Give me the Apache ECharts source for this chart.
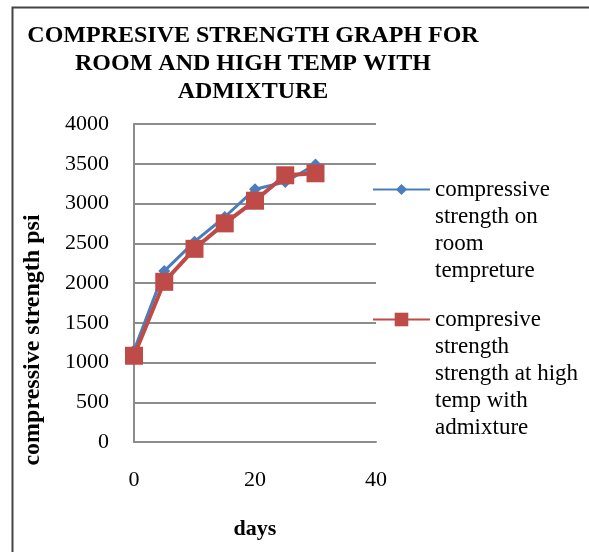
<!DOCTYPE html>
<html>
<head>
<meta charset="utf-8">
<script src="https://cdn.jsdelivr.net/npm/echarts@6/dist/echarts.min.js"></script>
<style>html,body{margin:0;padding:0;background:#fff;}#c{width:589px;height:552px;}</style>
</head>
<body>
<div id="c"></div>
<script>
const days = [0, 5, 10, 15, 20, 25, 30];
const roomTemp = [1150, 2150, 2520, 2830, 3180, 3270, 3490];
const highTempAdmix = [1085, 2015, 2430, 2750, 3035, 3355, 3380];
const yTicks = { min: 0, max: 4000, interval: 500 };
const xTicks = { min: 0, max: 40, interval: 20 };
const nameRoom = 'compressive\nstrength on\nroom\ntempreture';
const nameHigh = 'compresive\nstrength\nstrength at high\ntemp with\nadmixture';

const serif = '"Liberation Serif", "Times New Roman", serif';
// put the legend icon level with the first text line
const firstLineAlign = (n) => '\n'.repeat(n.split('\n').length - 1) + n;

const chart = echarts.init(document.getElementById('c'));
chart.setOption({
  backgroundColor: '#fff',
  animation: false,
  title: {
    text: 'COMPRESIVE STRENGTH GRAPH FOR\nROOM AND HIGH TEMP WITH\nADMIXTURE',
    left: 248, top: 17, textAlign: 'center',
    textStyle: { fontFamily: serif, fontWeight: 'bold', fontSize: 24, lineHeight: 28, color: '#000' }
  },
  graphic: [{
    type: 'rect', left: 10, top: 5, shape: { width: 700, height: 700 },
    style: { fill: 'none', stroke: '#444', lineWidth: 2 }, silent: true
  }],
  grid: { left: 134, right: 213, top: 124, bottom: 110 },
  legend: [{
    data: [nameRoom], orient: 'vertical', left: 372, top: 95, padding: 0,
    itemWidth: 57, itemHeight: 14, itemGap: 0, formatter: firstLineAlign,
    textStyle: { fontFamily: serif, fontSize: 23, lineHeight: 27, color: '#000' }
  }, {
    data: [nameHigh], orient: 'vertical', left: 372, top: 198, padding: 0,
    itemWidth: 57, itemHeight: 17, itemGap: 0, formatter: firstLineAlign,
    textStyle: { fontFamily: serif, fontSize: 23, lineHeight: 27, color: '#000' }
  }],
  xAxis: {
    type: 'value', min: xTicks.min, max: xTicks.max, interval: xTicks.interval,
    name: 'days', nameLocation: 'middle', nameGap: 76,
    nameTextStyle: { fontFamily: serif, fontWeight: 'bold', fontSize: 22, color: '#000' },
    axisLine: { show: true, lineStyle: { color: '#8c8c8c', width: 2 } },
    axisTick: { show: false },
    splitLine: { show: false },
    axisLabel: { fontFamily: serif, fontSize: 22, color: '#000', margin: 27 }
  },
  yAxis: {
    type: 'value', min: yTicks.min, max: yTicks.max, interval: yTicks.interval,
    name: 'compressive strength psi', nameLocation: 'middle', nameGap: 89,
    nameTextStyle: { fontFamily: serif, fontWeight: 'bold', fontSize: 24, color: '#000', padding: [0, 114, 0, 0] },
    axisLine: { show: true, lineStyle: { color: '#8c8c8c', width: 2 } },
    axisTick: { show: false },
    splitLine: { show: true, lineStyle: { color: '#8c8c8c', width: 2 } },
    axisLabel: { fontFamily: serif, fontSize: 22, color: '#000', margin: 25, formatter: (v) => String(v) }
  },
  series: [{
    name: nameRoom, type: 'line',
    data: days.map((d, i) => [d, roomTemp[i]]),
    symbol: 'diamond', symbolSize: 12,
    lineStyle: { color: '#4a7ebb', width: 3 },
    itemStyle: { color: '#4a7ebb' }
  }, {
    name: nameHigh, type: 'line',
    data: days.map((d, i) => [d, highTempAdmix[i]]),
    symbol: 'rect', symbolSize: 18,
    lineStyle: { color: '#be4b48', width: 4 },
    itemStyle: { color: '#be4b48' }
  }]
});
</script>
</body>
</html>
